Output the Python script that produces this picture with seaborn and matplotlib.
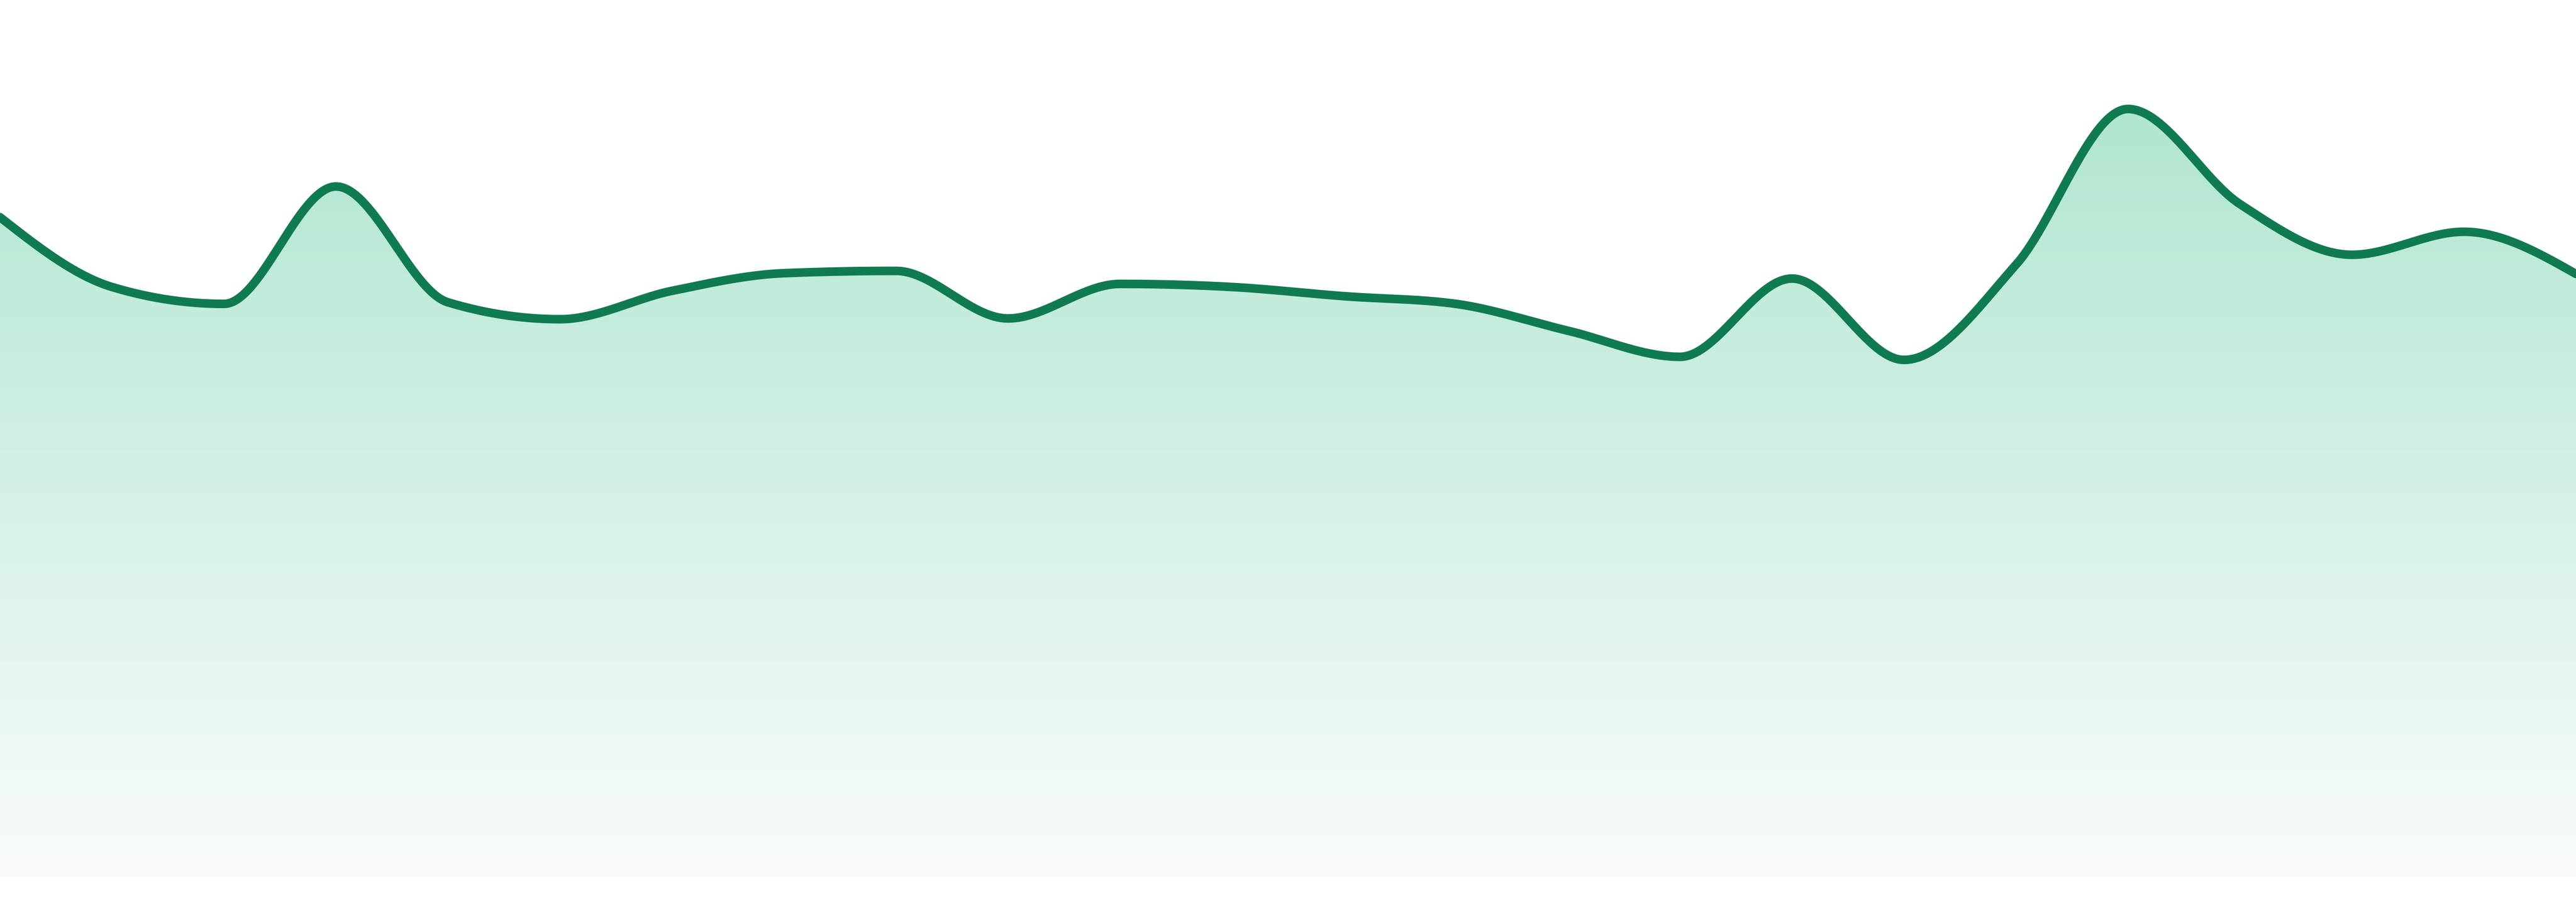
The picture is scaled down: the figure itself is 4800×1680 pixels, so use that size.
import numpy as np
import pandas as pd
import matplotlib
matplotlib.use("Agg")
import matplotlib.pyplot as plt
from matplotlib.patches import Polygon
import seaborn as sns

# ---- data ----
points = list(range(24))
values = [85.9, 76.8, 74.6, 89.9, 74.8, 72.6, 76.3, 78.6, 78.9, 72.7, 77.2, 76.8,
          75.6, 74.6, 71.1, 67.7, 77.9, 67.3, 79.7, 100.0, 87.6, 81.0, 84.0, 78.5]

LINE_COLOR = "#107a50"
TOP_RGB = np.array([176, 230, 208]) / 255.0
BOT_RGB = np.array([250, 252, 251]) / 255.0


def monotone_x(x, y, n=60):
    """d3 curveMonotoneX style Hermite interpolation (for drawing only)."""
    x = np.asarray(x, float)
    y = np.asarray(y, float)
    h = np.diff(x)
    s = np.diff(y) / h
    t = np.zeros_like(y)
    for i in range(1, len(y) - 1):
        s0, s1 = s[i - 1], s[i]
        p = (s0 * h[i] + s1 * h[i - 1]) / (h[i - 1] + h[i])
        t[i] = (np.sign(s0) + np.sign(s1)) * min(abs(s0), abs(s1), 0.5 * abs(p))
    t[0] = (3 * s[0] - t[1]) / 2
    t[-1] = (3 * s[-1] - t[-2]) / 2
    xs, ys = [], []
    for i in range(len(y) - 1):
        u = np.linspace(0, 1, n, endpoint=(i == len(y) - 2))
        h00 = 2 * u**3 - 3 * u**2 + 1
        h10 = u**3 - 2 * u**2 + u
        h01 = -2 * u**3 + 3 * u**2
        h11 = u**3 - u**2
        xs.append(x[i] + u * h[i])
        ys.append(h00 * y[i] + h10 * h[i] * t[i] + h01 * y[i + 1] + h11 * h[i] * t[i + 1])
    return np.concatenate(xs), np.concatenate(ys)


sns.set_style("white")
fig = plt.figure(figsize=(16, 5.6), dpi=300)
ax = fig.add_axes([0, 0, 1, 1])

H = 1680.0
base_px = 1632.0
scale = 14.29
y_top = base_px / scale
y_bot = -(H - base_px) / scale

cx, cy = monotone_x(points, values)
df = pd.DataFrame({"x": cx, "y": cy})

# gradient fill clipped to area under the curve
rows = np.arange(int(H))
frac = np.clip((rows - 200.0) / (base_px - 200.0), 0, 1)[:, None]
grad = TOP_RGB[None, :] * (1 - frac) + BOT_RGB[None, :] * frac
img = grad[:, None, :]
im = ax.imshow(img, extent=[points[0], points[-1], y_bot, y_top], aspect="auto",
               origin="upper", zorder=1, interpolation="bilinear")
verts = np.vstack([[cx[0], 0.0], np.column_stack([cx, cy]), [cx[-1], 0.0]])
poly = Polygon(verts, closed=True, facecolor="none", edgecolor="none")
ax.add_patch(poly)
im.set_clip_path(poly)

sns.lineplot(data=df, x="x", y="y", ax=ax, color=LINE_COLOR, linewidth=3.85,
             sort=False, estimator=None, zorder=3)

ax.set_xlim(points[0], points[-1])
ax.set_ylim(y_bot, y_top)
ax.set_axis_off()
fig.savefig("out.png", dpi=300, facecolor="white")
